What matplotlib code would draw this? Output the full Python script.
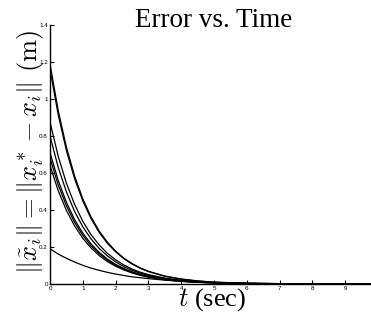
import matplotlib
matplotlib.use("Agg")
import matplotlib.pyplot as plt

t = [0, 0.25, 0.5, 0.75, 1, 1.25, 1.5, 1.75, 2, 2.25, 2.5, 2.75, 3,
     3.5, 4, 4.5, 5, 6, 7, 8, 9, 10]

err_1 = [1.19, 0.938, 0.740, 0.584, 0.460, 0.363, 0.286, 0.226, 0.178, 0.140, 0.111,
         0.087, 0.069, 0.043, 0.027, 0.017, 0.010, 0.004, 0.002, 0.001, 0.000, 0.000]
err_2 = [1.16, 0.915, 0.721, 0.569, 0.449, 0.354, 0.279, 0.220, 0.174, 0.137, 0.108,
         0.085, 0.067, 0.042, 0.026, 0.016, 0.010, 0.004, 0.002, 0.001, 0.000, 0.000]
err_3 = [0.876, 0.691, 0.545, 0.430, 0.339, 0.267, 0.211, 0.166, 0.131, 0.103, 0.081,
         0.064, 0.051, 0.032, 0.020, 0.012, 0.008, 0.003, 0.001, 0.000, 0.000, 0.000]
err_4 = [0.80, 0.631, 0.498, 0.392, 0.309, 0.244, 0.192, 0.152, 0.120, 0.094, 0.074,
         0.059, 0.046, 0.029, 0.018, 0.011, 0.007, 0.003, 0.001, 0.000, 0.000, 0.000]
err_5 = [0.71, 0.560, 0.442, 0.348, 0.275, 0.217, 0.171, 0.135, 0.106, 0.084, 0.066,
         0.052, 0.041, 0.026, 0.016, 0.010, 0.006, 0.002, 0.001, 0.000, 0.000, 0.000]
err_6 = [0.68, 0.536, 0.423, 0.333, 0.263, 0.207, 0.164, 0.129, 0.102, 0.080, 0.063,
         0.050, 0.039, 0.024, 0.015, 0.009, 0.006, 0.002, 0.001, 0.000, 0.000, 0.000]
err_7 = [0.64, 0.505, 0.398, 0.314, 0.247, 0.195, 0.154, 0.121, 0.096, 0.076, 0.060,
         0.047, 0.037, 0.023, 0.014, 0.009, 0.006, 0.002, 0.001, 0.000, 0.000, 0.000]
err_8 = [0.19, 0.162, 0.139, 0.119, 0.101, 0.086, 0.074, 0.063, 0.054, 0.046, 0.039,
         0.034, 0.029, 0.021, 0.015, 0.011, 0.008, 0.004, 0.002, 0.001, 0.001, 0.000]

xticks = [0, 1, 2, 3, 4, 5, 6, 7, 8, 9]
yticks = [0, 0.2, 0.4, 0.6, 0.8, 1.0, 1.2, 1.4]
ytick_labels = ["0", "0.2", "0.4", "0.6", "0.8", "1", "1.2", "1.4"]

plt.rcParams['mathtext.fontset'] = 'cm'

fig = plt.figure(figsize=(3.71, 3.12), dpi=100)
ax = fig.add_axes([0.1348, 0.0897, 0.884, 0.830])

for s in [err_1, err_2, err_3, err_4, err_5, err_6, err_7, err_8]:
    ax.plot(t, s, color='black', linewidth=0.9)

ax.set_xlim(0, 10)
ax.set_ylim(0, 1.4)
ax.set_xticks(xticks)
ax.set_yticks(yticks)
ax.set_yticklabels(ytick_labels)
ax.spines['top'].set_visible(False)
ax.spines['right'].set_visible(False)
ax.spines['left'].set_linewidth(1.0)
ax.spines['bottom'].set_linewidth(1.0)
ax.tick_params(direction='in', length=3, width=0.8, labelsize=4.5, pad=1.5)
for lab in ax.get_xticklabels() + ax.get_yticklabels():
    lab.set_family('Liberation Sans')

fig.text(214 / 371, 1 - 27 / 312, "Error vs. Time", fontsize=19.5,
         family='Liberation Serif', ha='center', va='baseline')
fig.text(212.5 / 371, 1 - 300 / 312, r"$t$ (sec)", fontsize=19,
         family='Liberation Serif', ha='center', va='center')
fig.text(31 / 371, 1 - 152 / 312, r"$\|\tilde{x}_i\| = \|x_i^* - x_i\|$ $\mathrm{(m)}$",
         fontsize=19, rotation=90, ha='center', va='center',
         rotation_mode='anchor')

fig.savefig("out.png", dpi=100)
